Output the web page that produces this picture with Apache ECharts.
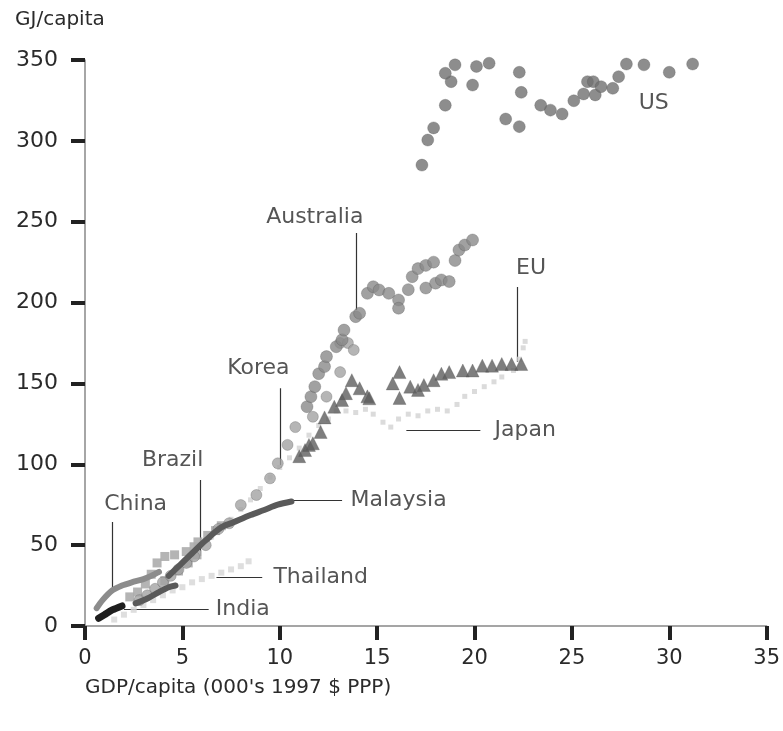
<!DOCTYPE html>
<html><head><meta charset="utf-8">
<script src="https://cdn.jsdelivr.net/npm/echarts@6/dist/echarts.min.js"></script>
<style>html,body{margin:0;padding:0;background:#fff}#c{width:783px;height:731px}</style>
</head><body><div id="c"></div>
<script>
// ---- data: [GDP per capita (000's 1997 $ PPP), GJ per capita] ----
const US = [[17.3,285],[17.6,300.5],[17.9,308],[18.5,322],[18.8,336.6],[18.5,341.8],[19.0,347],[19.9,334.5],[20.1,346],[20.75,348],[22.3,342.4],[22.4,330],[21.6,313.5],[22.3,308.8],[23.4,322],[23.9,319],[24.5,316.6],[25.1,324.8],[25.6,329],[25.8,336.6],[26.1,336.6],[26.2,328.4],[26.5,333.5],[27.1,332.5],[27.4,339.7],[27.8,347.5],[28.7,347],[30.0,342.4],[31.2,347.5]];
const Australia = [[11.4,135.6],[11.6,141.8],[11.8,148],[12.0,156],[12.3,160.4],[12.4,166.6],[12.9,172.7],[13.2,177],[13.3,183],[13.9,191.3],[14.1,193.4],[14.5,205.7],[14.8,209.8],[15.1,207.8],[15.6,205.7],[16.1,201.6],[16.1,196.5],[16.6,208],[16.8,216],[17.1,221],[17.5,209],[17.5,223],[17.9,225],[18.0,212],[18.3,214],[18.7,213],[19.0,226],[19.2,232.5],[19.5,235.6],[19.9,238.7]];
const Korea = [[2.8,16],[3.2,19],[3.6,23],[4.0,27],[4.4,31],[4.8,35],[5.2,39],[5.6,43],[6.2,50],[6.85,60],[7.4,63.5],[8.0,74.8],[8.8,81],[9.5,91.3],[9.9,100.6],[10.4,112],[10.8,123],[11.7,129.4],[12.4,141.8],[13.1,157],[13.1,175],[13.5,175],[13.8,170.7]];
const EU = [[11.0,105],[11.3,108.8],[11.5,112],[11.7,113],[12.1,120],[12.3,129],[12.8,135.6],[13.2,139.7],[13.4,144],[13.7,152],[14.1,147],[14.5,142],[14.6,140.8],[15.8,150],[16.15,157],[16.15,141],[16.7,148],[17.1,146],[17.4,149],[17.9,152],[18.3,156],[18.7,157],[19.4,158],[19.9,158],[20.4,161],[20.9,161],[21.4,162],[21.9,162],[22.4,162]];
const Japan = [[6.5,55],[7.0,60],[7.5,66],[8.0,72],[8.5,78],[9.0,85],[9.5,92],[10.0,98],[10.5,104],[11.0,110],[11.5,118],[12.0,124],[12.5,128],[12.9,133],[13.4,133],[13.9,132],[14.4,134],[14.8,131],[15.3,126],[15.7,123],[16.1,128],[16.6,131],[17.1,130],[17.6,133],[18.1,134],[18.6,133],[19.1,137],[19.5,142],[20.0,145],[20.5,148],[21.0,151],[21.4,154],[22.0,158],[22.3,165],[22.5,172],[22.6,176]];
const Brazil = [[2.3,18],[2.7,21],[3.1,26],[3.4,32],[3.7,39],[4.1,43],[4.6,44],[5.2,46],[5.6,49],[5.8,52],[6.3,56],[6.7,59],[7.0,62],[4.1,28],[4.8,34],[5.3,39],[5.75,44]];
const Thailand = [[1.5,4],[2.0,7],[2.5,10],[3.0,13],[3.5,16],[4.0,19],[4.5,22],[5.0,24],[5.5,27],[6.0,29],[6.5,31],[7.0,33],[7.5,35],[8.0,37],[8.4,40]];
const China = [[0.6,11],[0.9,16],[1.4,22],[1.9,25],[2.4,27],[3.0,29],[3.4,31],[3.8,33.5]];
const Malaysia = [[2.6,14],[3.2,17],[3.8,21],[4.3,24],[4.65,25],'-',[4.3,31],[4.9,38],[5.5,45],[6.2,53],[7.0,61],[7.6,64],[8.5,68.6],[9.2,71.7],[9.9,75],[10.6,77]];
const India = [[0.7,4.8],[1.0,7],[1.4,9.9],[1.9,12.4]];

const xTicks = [0,5,10,15,20,25,30,35];
const yTicks = [0,50,100,150,200,250,300,350];

// annotation texts and leader lines (data coords)
const annLabels = ['US','Australia','EU','Korea','Brazil','China','Malaysia','Thailand','India','Japan'];
const annTextPos = [[29.2,323],[11.8,253],[22.9,221.4],[8.9,159.5],[4.5,102.7],[2.6,75.4],[16.1,78],[12.1,30.3],[8.1,10.5],[22.6,121.2]];
const annLeaders = [null,[[13.95,243],[13.95,195.4]],[[22.2,209.6],[22.2,163.3]],[[10.0,147],[10.0,99.6]],[[5.94,90.3],[5.94,43.3]],[[1.42,64.3],[1.42,23.5]],[[10.65,78],[13.2,78]],[[6.75,30.3],[9.1,30.3]],[[2.0,10.5],[6.35,10.5]],[[16.5,121.2],[20.3,121.2]]];

const FONT = 'DejaVu Sans';
const chart = echarts.init(document.getElementById('c'), null, {renderer:'canvas'});
const scat = (name, data, symbol, size, color, extra) => Object.assign({
  name, type:'scatter', data, symbol, symbolSize:size,
  itemStyle:{color, borderColor:'rgba(80,80,80,0.35)', borderWidth:1}, silent:true
}, extra||{});
const ln = (name, data, color, width) => ({
  name, type:'line', data, symbol:'none', smooth:0.3,
  lineStyle:{color, width, cap:'round', join:'round'}, silent:true
});

const series = [
  scat('Japan', Japan, 'rect', 5, '#d2d2d2', {itemStyle:{color:'#d2d2d2'}}),
  scat('Thailand', Thailand, 'rect', 6, '#d6d6d6', {itemStyle:{color:'#d6d6d6'}}),
  scat('Brazil', Brazil, 'rect', 9, '#a9a9a9', {itemStyle:{color:'#acacac', opacity:0.9}}),
  scat('Korea', Korea, 'circle', 11, '#a2a2a2'),
  ln('China', China, '#8c8c8c', 6),
  ln('Malaysia', Malaysia, '#5a5a5a', 6),
  ln('India', India, '#1e1e1e', 7),
  scat('Australia', Australia, 'circle', 12, '#8a8a8a'),
  scat('EU', EU, 'triangle', 13, '#5e5e5e'),
  scat('US', US, 'circle', 12, '#707070'),
  {
    type:'lines', coordinateSystem:'cartesian2d', silent:true,
    lineStyle:{color:'#333', width:1.2, opacity:1},
    data: annLeaders.filter(l=>l).map(l=>({coords:l}))
  },
  {
    type:'scatter', silent:true, symbolSize:1, itemStyle:{color:'rgba(0,0,0,0)'},
    data: annLabels.map((t,i)=>({value:annTextPos[i], name:t})),
    label:{show:true, position:'inside', formatter:p=>p.name, color:'#2a2a2a',
      fontFamily:FONT, fontSize:22}
  }
];

chart.setOption({
  animation:false,
  backgroundColor:'#fff',
  grid:{left:85, right:8, top:60, bottom:105, containLabel:false},
  xAxis:{type:'value', min:0, max:35, interval:5,
    name:"GDP/capita (000's 1997 $ PPP)", nameLocation:'start',
    nameTextStyle:{fontFamily:FONT, fontSize:20, color:'#2a2a2a', align:'left', verticalAlign:'top', padding:[52,0,0,0]},
    nameGap:0,
    axisLine:{lineStyle:{color:'#888', width:1.5}},
    axisTick:{length:14, lineStyle:{color:'#222', width:4}},
    axisLabel:{fontFamily:FONT, fontSize:21, color:'#2a2a2a', margin:22,
      formatter:v=>xTicks.includes(v)?String(v):''},
    splitLine:{show:false}},
  yAxis:{type:'value', min:0, max:350, interval:50,
    name:'GJ/capita', nameLocation:'end',
    nameTextStyle:{fontFamily:FONT, fontSize:20, color:'#2a2a2a', align:'left', padding:[0,0,8,-70]},
    nameGap:22,
    axisLine:{show:true, lineStyle:{color:'#888', width:1.5}},
    axisTick:{show:true, length:14, lineStyle:{color:'#222', width:4}},
    axisLabel:{fontFamily:FONT, fontSize:22, color:'#2a2a2a', margin:27,
      formatter:v=>yTicks.includes(v)?String(v):''},
    splitLine:{show:false}},
  series
});
</script>
</body></html>
